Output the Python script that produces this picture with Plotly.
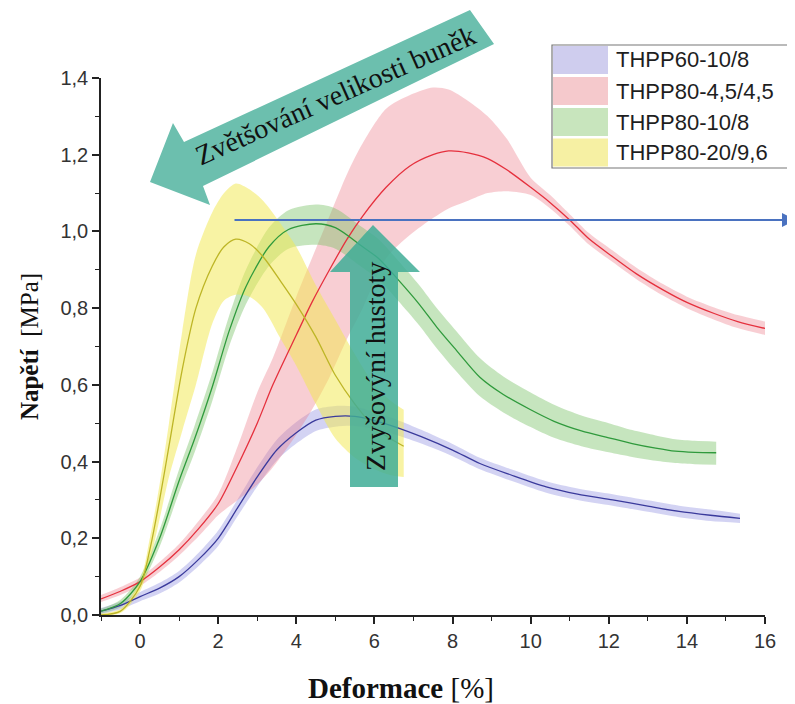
import plotly.graph_objects as go

# ---------------- data ----------------
series_names = ["THPP60-10/8", "THPP80-4,5/4,5", "THPP80-10/8", "THPP80-20/9,6"]

blue_x = [-1, -0.5, 0, 0.5, 1, 1.5, 2, 2.5, 3, 3.5, 4, 4.5, 5, 5.5, 6, 6.6, 7.2, 8, 8.7, 9.5, 10.4, 11.2, 12.1, 13, 13.8, 14.6, 15.36]
blue_y = [0.01, 0.025, 0.048, 0.07, 0.1, 0.145, 0.2, 0.28, 0.36, 0.43, 0.475, 0.508, 0.518, 0.518, 0.507, 0.488, 0.465, 0.43, 0.395, 0.365, 0.334, 0.315, 0.3, 0.284, 0.27, 0.26, 0.252]
blue_hi = [0.018, 0.035, 0.06, 0.084, 0.115, 0.162, 0.22, 0.302, 0.385, 0.457, 0.503, 0.536, 0.545, 0.543, 0.529, 0.508, 0.483, 0.446, 0.41, 0.38, 0.349, 0.33, 0.315, 0.299, 0.285, 0.275, 0.264]
blue_lo = [0.002, 0.015, 0.036, 0.056, 0.085, 0.128, 0.18, 0.258, 0.335, 0.403, 0.447, 0.48, 0.491, 0.493, 0.485, 0.468, 0.447, 0.414, 0.38, 0.35, 0.319, 0.3, 0.285, 0.269, 0.255, 0.245, 0.24]

red_x = [-1, -0.5, 0, 0.5, 1, 1.5, 2, 2.5, 3, 3.4, 4, 4.4, 4.85, 5.3, 5.7, 6.3, 6.9, 7.5, 7.9, 8.4, 8.9, 9.4, 10, 10.5, 11, 11.5, 12.1, 12.7, 13.4, 14, 14.7, 15.3, 16]
red_y = [0.042, 0.062, 0.087, 0.125, 0.17, 0.225, 0.29, 0.39, 0.5, 0.6, 0.73, 0.815, 0.9, 0.98, 1.04, 1.115, 1.17, 1.2, 1.21, 1.205, 1.19, 1.16, 1.115, 1.075, 1.03, 0.98, 0.934, 0.89, 0.847, 0.815, 0.786, 0.765, 0.747]
red_hi = [0.052, 0.073, 0.098, 0.138, 0.185, 0.245, 0.315, 0.44, 0.58, 0.67, 0.83, 0.93, 1.04, 1.15, 1.23, 1.32, 1.355, 1.375, 1.37, 1.34, 1.3, 1.24, 1.14, 1.095, 1.045, 0.995, 0.95, 0.906, 0.862, 0.83, 0.802, 0.782, 0.765]
red_lo = [0.034, 0.052, 0.076, 0.112, 0.155, 0.205, 0.26, 0.3, 0.34, 0.385, 0.47, 0.535, 0.62, 0.72, 0.8, 0.93, 0.99, 1.035, 1.06, 1.08, 1.1, 1.105, 1.095, 1.06, 1.015, 0.965, 0.92, 0.876, 0.832, 0.8, 0.77, 0.748, 0.73]

green_x = [-1, -0.5, 0, 0.5, 1, 1.4, 1.85, 2.28, 2.71, 3.3, 3.8, 4.5, 5.0, 5.7, 6.1, 6.6, 7.15, 7.6, 8.1, 8.7, 9.3, 10, 10.6, 11.3, 12, 12.6, 13.2, 13.7, 14.2, 14.75]
green_y = [0.01, 0.03, 0.087, 0.2, 0.35, 0.46, 0.595, 0.74, 0.856, 0.96, 1.005, 1.02, 1.01, 0.96, 0.93, 0.875, 0.81, 0.75, 0.69, 0.62, 0.575, 0.535, 0.505, 0.48, 0.462, 0.447, 0.435, 0.427, 0.424, 0.423]
green_hi = [0.016, 0.04, 0.1, 0.222, 0.38, 0.495, 0.632, 0.78, 0.9, 1.01, 1.055, 1.07, 1.06, 1.01, 0.98, 0.925, 0.86, 0.8, 0.74, 0.67, 0.622, 0.58, 0.548, 0.52, 0.5, 0.482, 0.468, 0.458, 0.454, 0.452]
green_lo = [0.004, 0.02, 0.074, 0.178, 0.32, 0.425, 0.558, 0.7, 0.81, 0.91, 0.955, 0.965, 0.955, 0.905, 0.875, 0.82, 0.755, 0.695, 0.635, 0.57, 0.528, 0.49, 0.462, 0.44, 0.424, 0.412, 0.402, 0.396, 0.393, 0.392]

yellow_x = [-1, -0.5, 0, 0.25, 0.5, 0.74, 1.08, 1.43, 1.85, 2.15, 2.45, 2.8, 3.15, 3.6, 4.0, 4.5, 5.0, 5.5, 6.0, 6.4, 6.75]
yellow_y = [0.0, 0.01, 0.075, 0.17, 0.3, 0.44, 0.64, 0.8, 0.91, 0.96, 0.98, 0.968, 0.934, 0.87, 0.81, 0.725, 0.625, 0.55, 0.49, 0.46, 0.44]
yellow_hi = [0.004, 0.016, 0.09, 0.2, 0.34, 0.5, 0.74, 0.94, 1.05, 1.1, 1.125, 1.11, 1.08, 1.02, 0.96, 0.86, 0.77, 0.68, 0.6, 0.56, 0.535]
yellow_lo = [0.0, 0.005, 0.062, 0.14, 0.25, 0.36, 0.48, 0.6, 0.76, 0.82, 0.835, 0.83, 0.8, 0.72, 0.65, 0.55, 0.46, 0.41, 0.38, 0.365, 0.36]

x_ticks = [0, 2, 4, 6, 8, 10, 12, 14, 16]
y_ticks = [0.0, 0.2, 0.4, 0.6, 0.8, 1.0, 1.2, 1.4]
level_line_y = 1.03

x_title = "<b>Deformace</b> [%]"
y_title = "<b>Napětí</b>  [MPa]"
arrow_text_size = "Zvětšování velikosti buněk"
arrow_text_density = "Zvyšovýní hustoty"

# ---------------- styles ----------------
line_colors = ["#3a3a9c", "#e5303d", "#2f9a3c", "#bdb526"]
band_colors = ["rgba(110,110,215,0.30)", "rgba(236,120,132,0.36)",
               "rgba(120,192,100,0.42)", "rgba(242,232,80,0.52)"]
legend_patch = ["#cfcdee", "#f5c9cc", "#c8e5bd", "#f6f0a3"]

# page is shown with an 8px body margin, so work in page pixels and shift
OFF = 8
W, H = 795, 704
PL, PR, PT, PB = 101, 765, 78, 615          # plot area in page pixels
L, T = PL - OFF, PT - OFF
R, B = W - (PR - OFF), H - (PB - OFF)
PW, PH = PR - PL, PB - PT


def px(xp):
    return (xp - PL) / PW


def py(yp):
    return (PB - yp) / PH


data = [
    (blue_x, blue_y, blue_hi, blue_lo),
    (red_x, red_y, red_hi, red_lo),
    (green_x, green_y, green_hi, green_lo),
    (yellow_x, yellow_y, yellow_hi, yellow_lo),
]

fig = go.Figure()

# bands
for i, (xs, ys, hi, lo) in enumerate(data):
    fig.add_trace(go.Scatter(x=xs, y=lo, mode="lines",
                             line=dict(width=0, shape="spline", smoothing=0.8),
                             showlegend=False, hoverinfo="skip"))
    fig.add_trace(go.Scatter(x=xs, y=hi, mode="lines", fill="tonexty",
                             fillcolor=band_colors[i],
                             line=dict(width=0, shape="spline", smoothing=0.8),
                             showlegend=False, hoverinfo="skip"))

# mean lines
for i, (xs, ys, hi, lo) in enumerate(data):
    fig.add_trace(go.Scatter(x=xs, y=ys, mode="lines", name=series_names[i],
                             line=dict(color=line_colors[i], width=1.3,
                                       shape="spline", smoothing=0.8),
                             showlegend=False))

shapes = []
annotations = []

# custom legend
shapes.append(dict(type="rect", xref="paper", yref="paper",
                   x0=px(552), x1=px(810), y0=py(168), y1=py(45),
                   line=dict(color="#777777", width=1.2), fillcolor="white",
                   layer="above"))
row_c = [60, 91, 122, 152.5]
for i, name in enumerate(series_names):
    shapes.append(dict(type="rect", xref="paper", yref="paper",
                       x0=px(553), x1=px(608), y0=py(row_c[i] + 14), y1=py(row_c[i] - 14),
                       line=dict(width=0), fillcolor=legend_patch[i], layer="above"))
    annotations.append(dict(xref="paper", yref="paper", x=px(614), y=py(row_c[i]),
                            text=name, showarrow=False, xanchor="left", yanchor="middle",
                            font=dict(family="Liberation Sans, Arial", size=22, color="#1e1e1e")))

# diagonal arrow ("Zvětšování velikosti buněk")
diag = [(150, 182), (173, 123), (184, 142), (470, 10), (494, 44), (203, 186), (210, 205)]
path = "M " + " L ".join(f"{px(a):.4f},{py(b):.4f}" for a, b in diag) + " Z"
shapes.append(dict(type="path", xref="paper", yref="paper", path=path,
                   fillcolor="#6cbfae", line=dict(width=0), layer="above"))
annotations.append(dict(xref="paper", yref="paper", x=px(335), y=py(96),
                        xanchor="center", yanchor="middle",
                        text=arrow_text_size, showarrow=False, textangle=-24,
                        font=dict(family="Liberation Serif, Times New Roman", size=28, color="#111111")))

# vertical arrow ("Zvyšovýní hustoty")
vert = [(350, 487), (350, 272), (330, 272), (373, 225), (420, 272), (398, 272), (398, 487)]
path2 = "M " + " L ".join(f"{px(a):.4f},{py(b):.4f}" for a, b in vert) + " Z"
shapes.append(dict(type="path", xref="paper", yref="paper", path=path2,
                   fillcolor="rgba(63,173,150,0.85)", line=dict(width=0), layer="above"))
annotations.append(dict(xref="paper", yref="paper", x=px(375), y=py(367),
                        xanchor="center", yanchor="middle",
                        text=arrow_text_density, showarrow=False, textangle=-90,
                        font=dict(family="Liberation Serif, Times New Roman", size=28, color="#111111")))

# horizontal blue arrow
annotations.append(dict(xref="paper", yref="y", x=px(796), y=level_line_y,
                        ax=-(796 - 233), ay=0, axref="pixel", ayref="pixel",
                        text="", showarrow=True, arrowhead=2, arrowsize=1.4,
                        arrowwidth=2, arrowcolor="#4a72c0"))

# x-axis title (placed left of centre, as in the original)
annotations.append(dict(xref="paper", yref="paper", x=px(401), y=py(688),
                        xanchor="center", yanchor="middle", showarrow=False,
                        text=x_title,
                        font=dict(family="Liberation Serif, Times New Roman", size=29, color="#111111")))

fig.update_layout(
    width=W, height=H,
    margin=dict(l=L, r=R, t=T, b=B),
    paper_bgcolor="white", plot_bgcolor="white",
    separators=", ",
    shapes=shapes, annotations=annotations,
    showlegend=False,
)

tickfont = dict(family="Liberation Sans Narrow, Liberation Sans, Arial", size=20, color="#333333")
fig.update_xaxes(range=[-1, 16], tickvals=x_ticks, ticktext=[str(v) for v in x_ticks],
                 showgrid=False, zeroline=False, showline=True, linecolor="#222222", linewidth=1.5,
                 ticks="outside", ticklen=7, tickwidth=1.5, tickcolor="#222222",
                 minor=dict(dtick=1, tick0=-1, ticks="outside", ticklen=4, tickwidth=1.2, tickcolor="#222222"),
                 tickfont=tickfont)
fig.update_yaxes(range=[0, 1.4], tickvals=y_ticks, tickformat=".1f",
                 showgrid=False, zeroline=False, showline=True, linecolor="#222222", linewidth=1.5,
                 ticks="outside", ticklen=7, tickwidth=1.5, tickcolor="#222222",
                 minor=dict(dtick=0.1, tick0=0, ticks="outside", ticklen=4, tickwidth=1.2, tickcolor="#222222"),
                 tickfont=tickfont,
                 title=dict(text=y_title, standoff=15,
                            font=dict(family="Liberation Serif, Times New Roman", size=25, color="#111111")))

fig.write_html("out.html")
